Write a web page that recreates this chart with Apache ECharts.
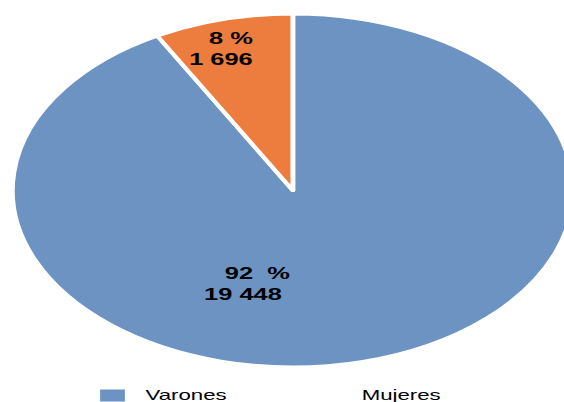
<!DOCTYPE html>
<html>
<head>
<meta charset="utf-8">
<script src="https://cdn.jsdelivr.net/npm/echarts@6/dist/echarts.min.js"></script>
<style>
    html, body { margin: 0; padding: 0; background: #fff; overflow: hidden; }
    /* el gráfico original está estirado en horizontal: se dibuja un círculo y se estira */
    #main { width: 355px; height: 402px; transform: scaleX(1.589); transform-origin: 0 0; }
</style>
</head>
<body>
<div id="main"></div>
<script>
var categories = ['Varones', 'Mujeres'];
var values = [19448, 1696];
var colors = ['#6d93c3', '#ed7d3f'];

// desplazamiento de las etiquetas respecto a la posición 'inside'
var labelOffsets = [[-50.6, 5.8], [-23.5, -52.5]];

function miles (v) {
    return v.toString().replace(/\B(?=(\d{3})+(?!\d))/g, ' ');
}

var pieData = categories.map(function (name, i) {
    return {
        name: name,
        value: values[i],
        itemStyle: {color: colors[i]},
        label: {offset: labelOffsets[i]}
    };
});

var legendText = {
    fontFamily: 'Liberation Sans',
    fontSize: 14,
    color: '#000',
    padding: [0, 0, 6, 7]
};

var myChart = echarts.init(document.getElementById('main'), null, {renderer: 'svg'});
myChart.setOption({
    animation: false,
    legend: [
        {
            data: [{name: 'Varones'}],
            left: 61,
            top: 387.5,
            padding: 0,
            itemWidth: 17.6,
            itemHeight: 14,
            icon: 'rect',
            textStyle: legendText
        },
        {
            data: [{name: 'Mujeres', itemStyle: {opacity: 0}}],
            left: 197,
            top: 387.5,
            padding: 0,
            itemWidth: 17.6,
            itemHeight: 14,
            icon: 'rect',
            textStyle: legendText
        }
    ],
    series: [{
        type: 'pie',
        center: [184.3, 190.5],
        radius: [0, 176.5],
        startAngle: 90,
        clockwise: true,
        itemStyle: {
            borderColor: '#fff',
            borderWidth: 3
        },
        emphasis: {disabled: true},
        labelLine: {show: false},
        label: {
            show: true,
            position: 'inside',
            formatter: function (p) {
                var pct = Math.round(p.percent);
                if (p.dataIndex === 0) {
                    return '{p|' + pct + '  %}\n{v|' + miles(p.value) + '}';
                }
                return '{r|' + pct + ' %}\n{r|' + miles(p.value) + '}';
            },
            rich: {
                p: {
                    fontFamily: 'Liberation Sans', fontWeight: 'bold', fontSize: 16,
                    color: '#000', lineHeight: 21, width: 43, align: 'left', padding: [0, 0, 0, 13]
                },
                v: {
                    fontFamily: 'Liberation Sans', fontWeight: 'bold', fontSize: 16,
                    color: '#000', lineHeight: 21, width: 56, align: 'left'
                },
                r: {
                    fontFamily: 'Liberation Sans', fontWeight: 'bold', fontSize: 16,
                    color: '#000', lineHeight: 21, width: 42, align: 'right'
                }
            }
        },
        data: pieData
    }]
});
</script>
</body>
</html>
